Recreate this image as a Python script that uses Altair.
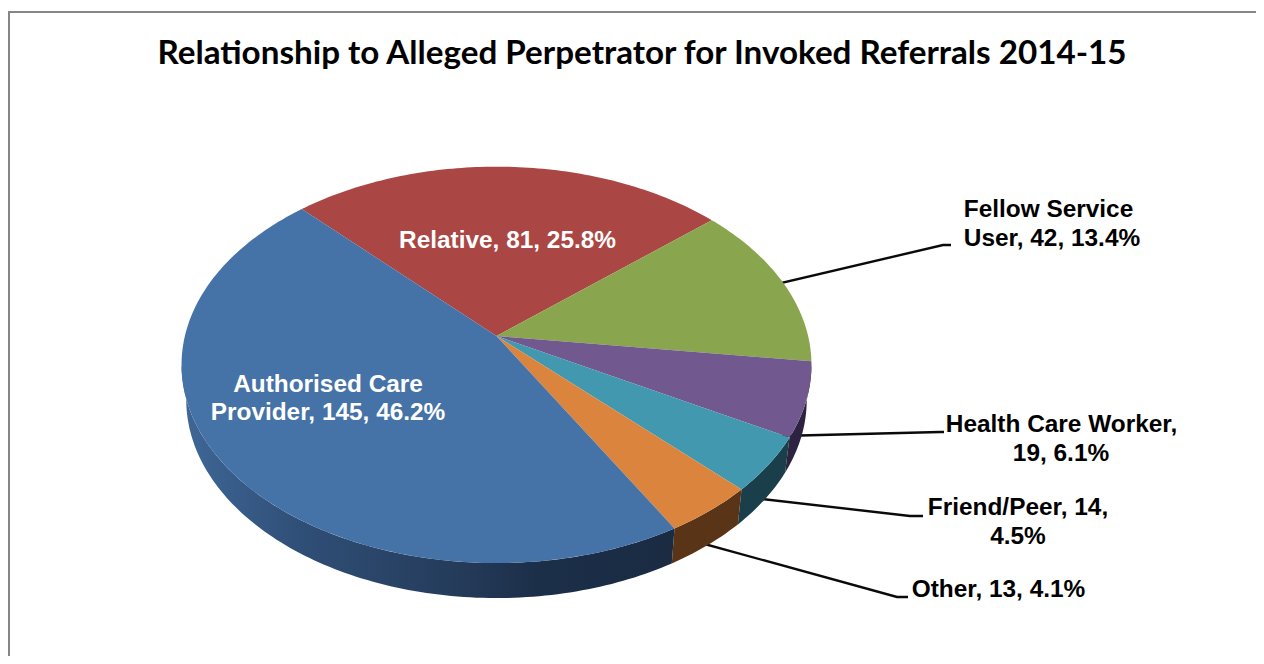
import math
import altair as alt
import pandas as pd

title_text = "Relationship to Alleged Perpetrator for Invoked Referrals 2014-15"
categories = ["Relative", "Fellow Service User", "Health Care Worker", "Friend/Peer", "Other", "Authorised Care Provider"]
counts = [81, 42, 19, 14, 13, 145]
top_colors = ["#AA4643", "#89A54E", "#71588F", "#4198AF", "#DB843D", "#4572A7"]
rim_colors = ["#5a2320", "#46552a", "#2d2340", "#1a3e4a", "#5a3416", "#1a2b42"]

label_lines = [
    ["Relative, 81, 25.8%"],
    ["Fellow Service", "User, 42, 13.4%"],
    ["Health Care Worker,", "19, 6.1%"],
    ["Friend/Peer, 14,", "4.5%"],
    ["Other, 13, 4.1%"],
    ["Authorised Care", "Provider, 145, 46.2%"],
]
label_colors = ["white", "black", "black", "black", "black", "white"]
label_x = [507.5, [1048.5, 1052], [1061.5, 1061], [1018, 1018], [998.5], 328]
label_y = [[247.5], [217, 246], [432, 461], [515, 544], [597], [392, 420]]
leaders = {
    "Fellow Service User": [(760, 288), (943, 245), (951, 245)],
    "Health Care Worker": [(780, 436), (940, 432), (944, 432)],
    "Friend/Peer": [(745, 497), (910, 516), (923, 516)],
    "Other": [(690, 540), (897, 597), (908, 597)],
}

CX, CY = 496.5, 336
A, B, K = 311.6, 194.0, 0.1456
START = -43.7
DEPTH = 35
INSET = 0.985
total = sum(counts)


def on_rim(deg):
    t = math.radians(deg)
    u, v = math.sin(t), -math.cos(t)
    w = 1 - K * v
    return A * u / w, B * v / w


top_rows, rim_rows = [], []
edge = START
right_side = 90 + math.degrees(math.asin(K))
left_side = 270 - math.degrees(math.asin(K))
for name, n, tc, rc in zip(categories, counts, top_colors, rim_colors):
    sweep = 360 * n / total
    steps = max(4, int(sweep))
    pts = [(CX, CY)]
    for i in range(steps + 1):
        x, y = on_rim(edge + sweep * i / steps)
        pts.append((CX + x, CY + y))
    pts.append((CX, CY))
    for j, (x, y) in enumerate(pts):
        top_rows.append(dict(name=name, o=j, x=x, y=y, c=tc))
    a0, a1 = max(edge, right_side), min(edge + sweep, left_side)
    if a1 > a0:
        m = max(4, int(a1 - a0))
        arc = [a0 + (a1 - a0) * i / m for i in range(m + 1)]
        ring = [(CX + on_rim(a)[0], CY + on_rim(a)[1]) for a in arc]
        ring += [(CX + INSET * on_rim(a)[0], CY + on_rim(a)[1] + DEPTH) for a in reversed(arc)]
        ring.append(ring[0])
        for j, (x, y) in enumerate(ring):
            rim_rows.append(dict(name=name, o=j, x=x, y=y, c=rc))
    edge += sweep

leader_rows = [dict(name=k, o=i, x=p[0], y=p[1]) for k, v in leaders.items() for i, p in enumerate(v)]
border_rows = [dict(o=0, x=9, y=656), dict(o=1, x=9, y=12), dict(o=2, x=1256, y=12)]

text_rows = []
for lines, col, xs, ys in zip(label_lines, label_colors, label_x, label_y):
    xs = xs if isinstance(xs, list) else [xs] * len(lines)
    for t, x, y in zip(lines, xs, ys):
        text_rows.append(dict(t=t, x=x, y=y, c=col))

X = alt.X("x:Q", scale=alt.Scale(domain=[8, 1256]), axis=None)
Y = alt.Y("y:Q", scale=alt.Scale(domain=[656, 8]), axis=None)

border = alt.Chart(pd.DataFrame(border_rows)).mark_line(color="#868686", strokeWidth=2).encode(x=X, y=Y, order="o:Q")
lead = alt.Chart(pd.DataFrame(leader_rows)).mark_line(color="#0a0a0a", strokeWidth=2.4).encode(x=X, y=Y, detail="name:N", order="o:Q")

rim_df = pd.DataFrame(rim_rows)
blue = "Authorised Care Provider"
rim = alt.Chart(rim_df[rim_df.name != blue]).mark_line(filled=True, strokeWidth=0).encode(
    x=X, y=Y, detail="name:N", order="o:Q", fill=alt.Fill("c:N", scale=None))
rim_blue = alt.Chart(rim_df[rim_df.name == blue]).mark_line(
    filled=True, strokeWidth=0,
    fill=alt.Gradient(gradient="linear", x1=0, x2=1, y1=0, y2=0, stops=[
        alt.GradientStop(offset=0, color="#3f6797"),
        alt.GradientStop(offset=0.25, color="#2f4e76"),
        alt.GradientStop(offset=0.55, color="#253c5b"),
        alt.GradientStop(offset=0.72, color="#1c2f49"),
        alt.GradientStop(offset=1, color="#1a2b42"),
    ])).encode(x=X, y=Y, order="o:Q")
top = alt.Chart(pd.DataFrame(top_rows)).mark_line(filled=True, strokeWidth=0).encode(
    x=X, y=Y, detail="name:N", order="o:Q", fill=alt.Fill("c:N", scale=None))
labels = alt.Chart(pd.DataFrame(text_rows)).mark_text(
    font="Liberation Sans", fontWeight="bold", fontSize=24.4, baseline="alphabetic", align="center"
).encode(x=X, y=Y, text="t:N", color=alt.Color("c:N", scale=None))
title = alt.Chart(pd.DataFrame([dict(t=title_text, x=642, y=64)])).mark_text(
    font="Lato", fontWeight="bold", fontSize=33.2, baseline="alphabetic", align="center", color="black"
).encode(x=X, y=Y, text="t:N")

chart = alt.layer(border, lead, rim, rim_blue, top, labels, title).properties(
    width=1248, height=648, padding=0, autosize=alt.AutoSizeParams(type="none"), background="white"
).configure_view(stroke=None)
chart.save("out.html", embed_options={"renderer": "svg", "actions": False})
